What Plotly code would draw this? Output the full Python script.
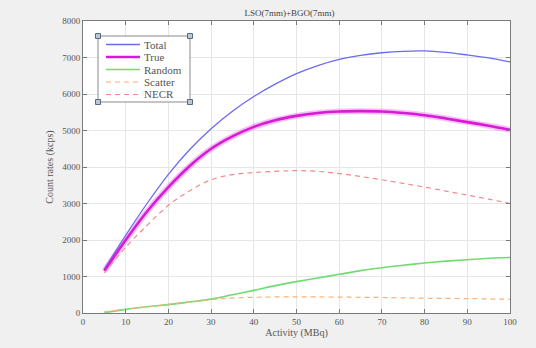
import plotly.graph_objects as go

activity = [5, 10, 15, 20, 25, 30, 35, 40, 45, 50, 55, 60, 65, 70, 75, 80, 85, 90, 95, 100]
total = [1200, 2130, 3000, 3800, 4480, 5050, 5530, 5930, 6270, 6560, 6780, 6950, 7060, 7130, 7170, 7180, 7140, 7070, 6990, 6880]
true_ = [1150, 2000, 2780, 3450, 4030, 4500, 4840, 5100, 5280, 5400, 5480, 5520, 5530, 5520, 5480, 5420, 5330, 5230, 5130, 5020]
random_ = [10, 100, 170, 230, 300, 380, 500, 620, 750, 860, 960, 1060, 1160, 1240, 1310, 1370, 1420, 1460, 1500, 1520]
scatter = [30, 100, 170, 240, 310, 370, 410, 430, 440, 440, 440, 435, 430, 425, 415, 405, 400, 395, 385, 375]
necr = [1100, 1800, 2400, 2950, 3350, 3650, 3790, 3850, 3880, 3900, 3880, 3820, 3740, 3650, 3550, 3450, 3340, 3230, 3120, 3000]

x_ticks = [0, 10, 20, 30, 40, 50, 60, 70, 80, 90, 100]
y_ticks = [0, 1000, 2000, 3000, 4000, 5000, 6000, 7000, 8000]

series_names = ["Total", "True", "Random", "Scatter", "NECR"]
series_colors = ["#6b6bf0", "#d81ad8", "#6fdc6f", "#f7b27a", "#f08a8a"]
series_widths = [1.3, 2.6, 1.6, 1.2, 1.2]
series_dash = ["solid", "solid", "solid", "5px,4px", "5px,4px"]
series_values = [total, true_, random_, scatter, necr]

FONT = "Liberation Serif"
W, H = 536, 348
L, R, T, B = 83, 26, 21, 35
PW, PH = W - L - R, H - T - B


def px(xp):
    return (xp - L) / PW


def py(yp):
    return (H - B - yp) / PH


fig = go.Figure()
# halo under True line
fig.add_trace(go.Scatter(x=activity, y=true_, mode="lines", line=dict(color="rgba(230,80,230,0.35)", width=6, shape="spline"),
                         showlegend=False, hoverinfo="skip"))
for name, color, width, dash, vals in zip(series_names, series_colors, series_widths, series_dash, series_values):
    fig.add_trace(go.Scatter(x=activity, y=vals, mode="lines", name=name,
                             line=dict(color=color, width=width, dash=dash, shape="spline"), showlegend=False))

axis_common = dict(showline=True, linecolor="#7a7a7a", linewidth=1, mirror="ticks", ticks="inside", ticklen=4,
                   tickcolor="#7a7a7a", showgrid=True, gridcolor="#e6e6e6", gridwidth=1, zeroline=False,
                   tickfont=dict(family=FONT, size=9, color="#555555"))

# manual MATLAB-style legend box
shapes = [dict(type="rect", xref="paper", yref="paper", x0=px(98), x1=px(190), y0=py(102), y1=py(36),
               line=dict(color="#8a8a8a", width=1), fillcolor="white", layer="above")]
annotations = []
item_y = [44.5, 57, 69.5, 82, 94.5]
for name, color, width, dash, yy in zip(series_names, series_colors, series_widths, series_dash, item_y):
    shapes.append(dict(type="line", xref="paper", yref="paper", x0=px(106), x1=px(140), y0=py(yy), y1=py(yy),
                       line=dict(color=color, width=width, dash=dash), layer="above"))
    annotations.append(dict(text=name, xref="paper", yref="paper", x=px(142), y=py(yy), xanchor="left",
                            yanchor="middle", showarrow=False, font=dict(family=FONT, size=11, color="#555555")))
for cx, cy in [(98, 36), (190, 36), (98, 102), (190, 102)]:
    shapes.append(dict(type="rect", xref="paper", yref="paper", x0=px(cx - 2.5), x1=px(cx + 2.5),
                       y0=py(cy + 2.5), y1=py(cy - 2.5), line=dict(color="#5a6a7a", width=1),
                       fillcolor="#b8c8d8", layer="above"))

fig.update_layout(
    width=W, height=H,
    margin=dict(l=L, r=R, t=T, b=B),
    paper_bgcolor="#f0f0f0", plot_bgcolor="white",
    font=dict(family=FONT, size=9, color="#555555"),
    title=dict(text="LSO(7mm)+BGO(7mm)", x=0.54, xanchor="center", y=0.963, yanchor="middle",
               font=dict(family=FONT, size=9, color="#444444")),
    xaxis=dict(range=[0, 100], tickvals=x_ticks, title=dict(text="Activity (MBq)", standoff=2,
               font=dict(family=FONT, size=10, color="#555555")), **axis_common),
    yaxis=dict(range=[0, 8000], tickvals=y_ticks, title=dict(text="Count rates (kcps)", standoff=6,
               font=dict(family=FONT, size=10, color="#555555")), **axis_common),
    shapes=shapes,
    annotations=annotations,
    showlegend=False,
)

fig.write_html("out.html")
